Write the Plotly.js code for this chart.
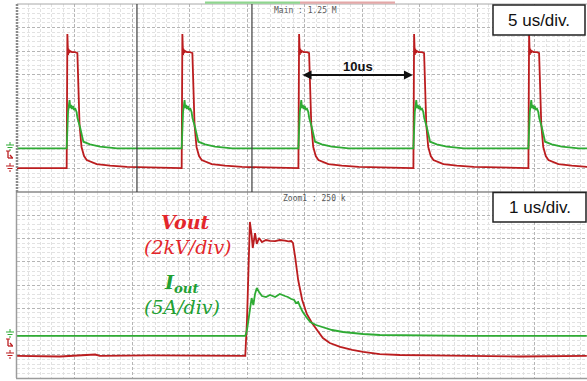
<!DOCTYPE html>
<html><head><meta charset="utf-8">
<script src="https://cdn.plot.ly/plotly-3.0.1.min.js"></script>
<style>html,body{margin:0;padding:0;background:#fff}#chart{width:587px;height:381px}</style>
</head><body><div id="chart"></div>
<script>
// ---------------- DATA ----------------
// Main window, 5 us/div: rising-edge time of each pulse (us)
const mainEdgeTimes = [4.35, 14.35, 24.5, 34.5, 44.5];
// Pulse shape in the main window, time relative to rising edge (us)
const mainVoutDt = [-0.03, 0.03, 0.09, 0.13, 0.19, 0.26, 0.43, 0.70, 0.90, 0.96, 1.09, 1.26, 1.48, 1.71, 2.58, 3.74, 5.22];
const mainVoutKV = [0, 11.41, 9.62, 10.13, 9.79, 9.96, 9.87, 9.87, 9.79, 7.49, 3.66, 1.79, 1.02, 0.68, 0.34, 0.20, 0.09];
const mainIoutDt = [-0.03, 0.09, 0.17, 0.22, 0.28, 0.35, 0.43, 0.52, 0.61, 0.70, 0.83, 0.91, 1.13, 1.42, 2.00, 2.87, 4.35];
const mainIoutA  = [0, 7.72, 9.42, 10.27, 8.57, 9.21, 8.36, 9.00, 8.15, 8.57, 7.72, 6.45, 4.53, 1.40, 0.85, 0.34, 0];
// Zoom window, 1 us/div
const zoomVoutT  = [0, 0.75, 1.36, 1.44, 2.31, 3.18, 3.97, 4.00, 4.03, 4.05, 4.08, 4.10, 4.14, 4.17, 4.21, 4.26, 4.33, 4.40, 4.49, 4.57, 4.66, 4.72, 4.77, 4.80, 4.84, 4.89, 4.96, 5.04, 5.13, 5.24, 5.32, 5.44, 5.62, 5.83, 6.02, 6.31, 6.66, 7.18, 7.88, 8.75, 9.91];
const zoomVoutKV = [0, -0.05, 0.12, 0, 0.04, 0, 0, 3.09, 8.25, 11.52, 10.40, 9.28, 10.57, 9.63, 10.14, 9.80, 9.97, 9.90, 9.88, 9.97, 9.92, 9.85, 9.88, 9.71, 8.42, 6.53, 4.81, 3.61, 2.83, 2.06, 1.54, 1.11, 0.77, 0.51, 0.34, 0.16, 0.08, 0.04, 0, -0.05, 0];
const zoomIoutT  = [0, 1.5, 3.0, 3.97, 4.00, 4.02, 4.05, 4.08, 4.11, 4.14, 4.17, 4.21, 4.26, 4.33, 4.40, 4.49, 4.57, 4.66, 4.71, 4.77, 4.82, 4.85, 4.89, 4.92, 4.97, 5.03, 5.10, 5.20, 5.32, 5.48, 5.67, 5.83, 6.02, 6.31, 7.01, 7.88, 9.91];
const zoomIoutA  = [0, 0.05, -0.05, 0, 1.27, 3.42, 5.57, 8.15, 6.65, 9.02, 10.30, 9.44, 8.58, 8.37, 8.80, 8.37, 9.02, 8.58, 8.37, 7.94, 7.72, 7.08, 7.30, 6.43, 5.14, 4.07, 3.00, 2.35, 1.92, 1.27, 0.84, 0.63, 0.41, 0.20, 0.10, 0, 0];
// Zoom cursors in the main window (us)
const zoomCursors = [10.43, 20.43];
// Scope settings
const kVPerDiv = 2, APerDiv = 5;
const mainUsPerDiv = 5, zoomUsPerDiv = 1;
const timeDivs = 9.913, vertDivs = 8;
// channel ground positions (divisions from the bottom of each window)
const mainVGnd = 1.02, mainIGnd = 1.86, zoomVGnd = 0.95, zoomIGnd = 1.81;

// ---------------- BUILD ----------------
function repeatPulse(dt, vals) {
  const t = [0], y = [0];
  mainEdgeTimes.forEach(e => dt.forEach((d, k) => { t.push(e + d); y.push(vals[k]); }));
  t.push(timeDivs * mainUsPerDiv); y.push(0);
  return {t, y};
}
const mv = repeatPulse(mainVoutDt, mainVoutKV);
const mi = repeatPulse(mainIoutDt, mainIoutA);

const RED = '#bb1d1f', GREEN = '#2fab34';
const traces = [
  {x: mi.t, y: mi.y, xaxis: 'x', yaxis: 'y2', mode: 'lines', line: {color: GREEN, width: 1.8}},
  {x: mv.t, y: mv.y, xaxis: 'x', yaxis: 'y', mode: 'lines', line: {color: RED, width: 1.8}},
  {x: zoomIoutT, y: zoomIoutA, xaxis: 'x2', yaxis: 'y4', mode: 'lines', line: {color: GREEN, width: 1.8}},
  {x: zoomVoutT, y: zoomVoutKV, xaxis: 'x2', yaxis: 'y3', mode: 'lines', line: {color: RED, width: 1.8}}
];

const W = 587, H = 381, L = 17;
const P = px => (px - L) / (W - L);
const Q = py => (H - py) / H;
const topDom = [Q(192), Q(4)], botDom = [Q(378), Q(192)];

const MAJ = '#b5b5b5', MIN = '#e2e2e2';
function xa(range, dtick, anchor) {
  return {domain: [0, 1], range, anchor, tick0: 0, dtick, showgrid: true, gridcolor: MAJ, griddash: '3px,2px', gridwidth: 1,
    minor: {dtick: dtick / 5, tick0: 0, showgrid: true, gridcolor: MIN, gridwidth: 1},
    zeroline: false, showticklabels: false, ticks: '', showline: false, fixedrange: true};
}
function ya(dom, gnd, perDiv) {
  const r = [-gnd * perDiv, (vertDivs - gnd) * perDiv];
  return {domain: dom, range: r, tick0: r[0], dtick: perDiv, showgrid: true, gridcolor: MAJ, griddash: '3px,2px', gridwidth: 1,
    minor: {dtick: perDiv / 5, tick0: r[0], showgrid: true, gridcolor: MIN, gridwidth: 1},
    zeroline: false, showticklabels: false, ticks: '', showline: false, fixedrange: true};
}
function hidden(over, gnd, perDiv, anchor) {
  return {overlaying: over, anchor, range: [-gnd * perDiv, (vertDivs - gnd) * perDiv], visible: false, showgrid: false, zeroline: false};
}

const shapes = [];
function pl(x0, y0, x1, y1, color, width, dash) {
  shapes.push({type: 'line', xref: 'paper', yref: 'paper', x0: P(x0), y0: Q(y0), x1: P(x1), y1: Q(y1),
    line: {color, width: width || 1, dash: dash || 'solid'}});
}
function prect(x0, y0, x1, y1, fill, lc, lw) {
  shapes.push({type: 'rect', xref: 'paper', yref: 'paper', x0: P(x0), y0: Q(y0), x1: P(x1), y1: Q(y1),
    fillcolor: fill, line: {color: lc || fill, width: lw === undefined ? 0 : lw}});
}
function ground(cx, ty, color) {
  pl(cx, ty - 3, cx, ty, color, 1);
  pl(cx - 4, ty, cx + 4, ty, color, 1);
  pl(cx - 2.5, ty + 2.5, cx + 2.5, ty + 2.5, color, 1);
  pl(cx - 1, ty + 5, cx + 1, ty + 5, color, 1);
}
function chMark(cx, ty, color) {
  pl(cx - 2, ty, cx - 2, ty + 7, color, 1.3);
  pl(cx - 4, ty, cx, ty, color, 1);
  pl(cx - 2, ty + 7, cx + 3, ty + 7, color, 1.3);
  pl(cx, ty + 4, cx + 2.5, ty + 7, color, 1.3);
}
// frame
pl(17, 4, 587, 4, '#a8a8a8', 1);
pl(17, 4, 17, 192, '#8a8a8a', 2.5, '2px,1px');
pl(16.5, 192, 16.5, 378, '#9c9c9c', 1.5);
pl(16, 192, 587, 192, '#8a8a8a', 1.3);
pl(16, 378.5, 587, 378.5, '#9c9c9c', 1.5);
// zoom cursors
zoomCursors.forEach(c => shapes.push({type: 'line', xref: 'x', yref: 'paper', x0: c, x1: c, y0: Q(192), y1: Q(4), line: {color: '#3c3c3c', width: 1.2}}));
// zoom indicator bar
prect(205, 1.5, 300, 3.8, '#8fd68f');
prect(300, 1.5, 395, 3.8, '#e4a8a8');
// channel markers
ground(10, 145, GREEN); chMark(10, 151, RED); ground(10, 166, RED);
ground(10, 332, GREEN); chMark(10, 339, RED); ground(10, 353, RED);
// scale boxes
prect(493, 5, 585, 35, '#ffffff', '#222', 1.5);
prect(493, 192.5, 586, 222, '#ffffff', '#222', 1.5);

const SANS = 'Liberation Sans, Arial, sans-serif', SERIF = 'DejaVu Serif, serif', MONO = 'DejaVu Sans Mono, monospace';
function ann(px, py, text, font) {
  return {xref: 'paper', yref: 'paper', x: P(px), y: Q(py), text, showarrow: false, xanchor: 'center', yanchor: 'middle', font};
}
const arrowY = (((192 - 75) / 23.5) - mainVGnd) * kVPerDiv;
const annotations = [
  ann(305, 10, 'Main : 1.25 M', {family: MONO, size: 8, color: '#555'}),
  ann(314, 198, 'Zoom1 : 250 k', {family: MONO, size: 8, color: '#555'}),
  ann(539, 20, '5 us/div.', {family: SANS, size: 17, color: '#111'}),
  ann(540, 207.5, '1 us/div.', {family: SANS, size: 17, color: '#111'}),
  ann(358, 66, '<b>10us</b>', {family: SANS, size: 13, color: '#111'}),
  {xref: 'x', yref: 'y', x: mainEdgeTimes[3] - 0.07, y: arrowY, axref: 'x', ayref: 'y', ax: mainEdgeTimes[2] + 0.2, ay: arrowY,
   text: '', showarrow: true, arrowhead: 2, startarrowhead: 2, arrowside: 'end+start', arrowsize: 1, startarrowsize: 1, arrowwidth: 1.8, arrowcolor: '#111'},
  ann(185, 222, '<b><i>Vout</i></b>', {family: SERIF, size: 19, color: '#e3262b'}),
  ann(188, 247, '<i>(2kV/div)</i>', {family: SERIF, size: 19, color: '#e3262b'}),
  ann(181, 283, '<b><i>I<sub>out</sub></i></b>', {family: SERIF, size: 19, color: '#22a032'}),
  ann(182, 307, '<i>(5A/div)</i>', {family: SERIF, size: 19, color: '#22a032'})
];

const layout = {
  width: W, height: H, margin: {l: L, r: 0, t: 0, b: 0},
  paper_bgcolor: '#fff', plot_bgcolor: '#fff', showlegend: false,
  xaxis: xa([0, timeDivs * mainUsPerDiv], mainUsPerDiv, 'y'),
  yaxis: ya(topDom, mainVGnd, kVPerDiv),
  yaxis2: hidden('y', mainIGnd, APerDiv, 'x'),
  xaxis2: xa([0, timeDivs * zoomUsPerDiv], zoomUsPerDiv, 'y3'),
  yaxis3: ya(botDom, zoomVGnd, kVPerDiv),
  yaxis4: hidden('y3', zoomIGnd, APerDiv, 'x2'),
  shapes, annotations
};
Plotly.newPlot('chart', traces, layout, {staticPlot: true, displayModeBar: false});
</script></body></html>
